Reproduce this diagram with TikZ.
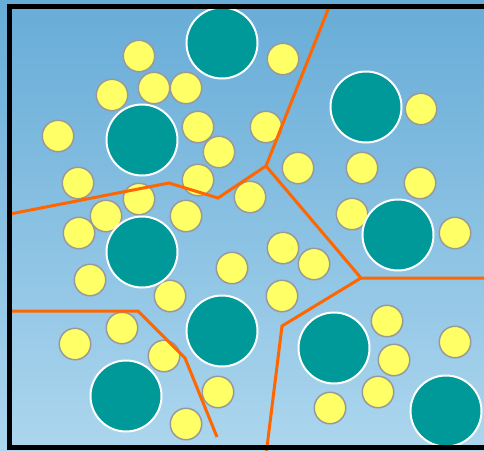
\documentclass[tikz,border=0pt]{standalone}
\usepackage{tikz}
\usetikzlibrary{positioning}
\definecolor{skytop}{RGB}{103,172,215}
\definecolor{skybot}{RGB}{172,214,238}
\definecolor{headteal}{RGB}{0,153,153}
\definecolor{smpyellow}{RGB}{255,255,102}
\definecolor{cellorange}{RGB}{255,102,0}
\tikzset{
  clhead/.style={circle,fill=headteal,draw=white,line width=2pt,
    minimum size=71pt,inner sep=0pt},
  sample/.style={circle,fill=smpyellow,draw=black!40,line width=1.5pt,
    minimum size=31.5pt,inner sep=0pt},
  celledge/.style={cellorange,line width=3pt,line join=miter},
  frameline/.style={line width=5pt,black},
}

\begin{document}
\begin{tikzpicture}[x=1pt,y=-1pt]
  \useasboundingbox (0,0) rectangle (484,450);
  \clip (0,0) rectangle (484,450);
  \fill[top color=skytop,bottom color=skybot] (0,0) rectangle (484,450);
  % samples
  \foreach \x/\y [count=\i] in {139/56,283/59,112/95,154/88,186/88,58/136,
      198/127,266/127,219/152,421/109,78/183,198/180,298/168,362/168,
      420/183,250/197,139/199,106/216,186/216,352/214,79/233,455/233,
      283/248,314/264,232/268,90/280,170/296,282/296,387/321,122/328,
      75/344,164/356,455/342,394/360,378/392,218/392,330/408,186/424}
    \node[sample] (s\i) at (\x,\y) {};
  % cluster heads
  \foreach \x/\y [count=\i] in {222/43,142/140,366/107,398/235,142/252,
      222/331,126/396,334/348,446/411}
    \node[clhead] (h\i) at (\x,\y) {};
  % cell boundaries
  \coordinate (a0) at (10,214);
  \coordinate (a1) at (169,183);
  \coordinate (a2) at (218,198);
  \coordinate (a3) at (266,166);
  \coordinate (a4) at (329,7);
  \coordinate (b1) at (361,278);
  \coordinate (b2) at (490,278);
  \coordinate (b3) at (282,326);
  \coordinate (b4) at (266,455);
  \coordinate (c0) at (10,311);
  \coordinate (c1) at (138,311);
  \coordinate (c2) at (185,358);
  \coordinate (c3) at (217,437);
  \draw[celledge] (a0) -- (a1) -- (a2) -- (a3) -- (a4);
  \draw[celledge] (a3) -- (b1) -- (b2);
  \draw[celledge] (b1) -- (b3) -- (b4);
  \draw[celledge] (c0) -- (c1) -- (c2) -- (c3);
  % frame
  \draw[frameline] (490,6.5) -- (9.5,6.5) -- (9.5,447.5) -- (490,447.5);
\end{tikzpicture}
\end{document}
